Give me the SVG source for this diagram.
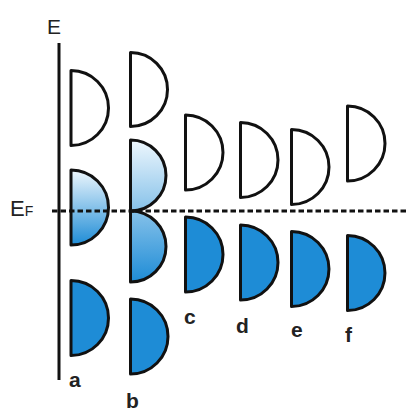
<svg xmlns="http://www.w3.org/2000/svg" width="409" height="412" viewBox="0 0 409 412">
<style>
.d{stroke:#111;stroke-width:3;stroke-linejoin:round}
.e{fill:#fff}
.s{fill:#1e8cd6}
.lbl{font-family:"Liberation Sans",Arial,sans-serif;font-weight:bold;font-size:21px;fill:#222}
.ax{font-family:"Liberation Sans",Arial,sans-serif;fill:#222}
</style>
<defs>
<linearGradient id="ga" gradientUnits="userSpaceOnUse" x1="0" y1="170" x2="0" y2="245">
<stop offset="0" stop-color="#eef7fd"/><stop offset="1" stop-color="#1e8cd6"/>
</linearGradient>
<linearGradient id="gb" gradientUnits="userSpaceOnUse" x1="0" y1="140" x2="0" y2="282">
<stop offset="0" stop-color="#eef7fd"/><stop offset="1" stop-color="#1e8cd6"/>
</linearGradient>
</defs>
<g id="axis">
<line x1="59" y1="43" x2="59" y2="380" stroke="#111" stroke-width="3"/>
<text class="ax" x="47" y="34" font-size="21">E</text>
<text class="ax" x="10" y="216" font-size="22">E<tspan font-size="14">F</tspan></text>
</g>
<g id="a">
<path class="d e" d="M71,70.5 A37.5,37.5 0 0 1 71,145.5 Z"/>
<path class="d" fill="url(#ga)" d="M71,170 A37.5,37.5 0 0 1 71,245 Z"/>
<path class="d s" d="M71,280.5 A37.5,37.5 0 0 1 71,355.5 Z"/>
<text class="lbl" x="69" y="387">a</text>
</g>
<g id="b">
<path class="d e" d="M130.5,52.5 A37,37 0 0 1 130.5,126.5 Z"/>
<path class="d" fill="url(#gb)" d="M130.5,140 A35.5,35.5 0 0 1 130.5,211 A35.5,35.5 0 0 1 130.5,282 Z"/>
<path class="d s" d="M130.5,299 A37.5,37.5 0 0 1 130.5,374 Z"/>
<text class="lbl" x="126" y="408">b</text>
</g>
<g id="c">
<path class="d e" d="M185.5,115 A37.5,37.5 0 0 1 185.5,190 Z"/>
<path class="d s" d="M185.5,217 A37.5,37.5 0 0 1 185.5,292 Z"/>
<text class="lbl" x="184" y="324">c</text>
</g>
<g id="d">
<path class="d e" d="M240.5,122.5 A37.5,37.5 0 0 1 240.5,197.5 Z"/>
<path class="d s" d="M240.5,225 A37.5,37.5 0 0 1 240.5,300 Z"/>
<text class="lbl" x="236" y="333">d</text>
</g>
<g id="e">
<path class="d e" d="M291.5,129.5 A37.5,37.5 0 0 1 291.5,204.5 Z"/>
<path class="d s" d="M291.5,231.5 A37.5,37.5 0 0 1 291.5,306.5 Z"/>
<text class="lbl" x="291" y="337">e</text>
</g>
<g id="f">
<path class="d e" d="M347.5,106 A37.5,37.5 0 0 1 347.5,181 Z"/>
<path class="d s" d="M347.5,235.5 A37.5,37.5 0 0 1 347.5,310.5 Z"/>
<text class="lbl" x="345" y="342">f</text>
</g>
<g id="connectors">
<line x1="52" y1="211" x2="406" y2="211" stroke="#111" stroke-width="3" stroke-dasharray="5.5 3"/>
</g>
</svg>
